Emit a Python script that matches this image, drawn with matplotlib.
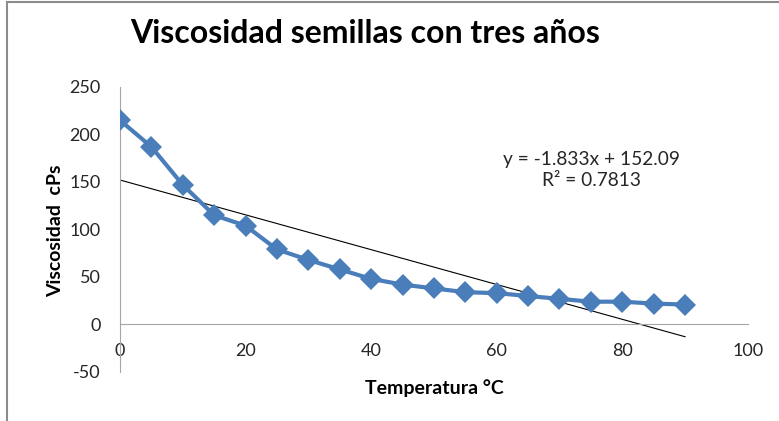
import numpy as np
import matplotlib
matplotlib.use('Agg')
import matplotlib.pyplot as plt
from matplotlib.lines import Line2D

plt.rcParams['font.family'] = ['Lato', 'DejaVu Sans']
plt.rcParams['axes.unicode_minus'] = False

# datos
temperatura = [0, 5, 10, 15, 20, 25, 30, 35, 40, 45, 50, 55, 60, 65, 70, 75, 80, 85, 90]
viscosidad = [215, 187, 147, 115, 104, 79, 68, 58, 48, 42, 38, 34, 33, 30, 27, 24, 24, 22, 21]
pendiente = -1.833
intercepto = 152.09
r2 = 0.7813
xticks = [0, 20, 40, 60, 80, 100]
yticks = [-50, 0, 50, 100, 150, 200, 250]

fig = plt.figure(figsize=(7.79, 4.21), dpi=100)
ax = fig.add_axes([0.154, 0.1164, 0.806, 0.677])

# linea de tendencia
xt = np.array([temperatura[0], temperatura[-1]])
ax.plot(xt, pendiente * xt + intercepto, color='black', lw=0.8, zorder=2)
ax.plot(temperatura, viscosidad, color='#4A7EBB', lw=3, marker='D', ms=11.5,
        markeredgewidth=0, zorder=3)

ax.set_xlim(0, 100)
ax.set_ylim(-50, 250)
ax.set_xticks(xticks)
ax.set_yticks(yticks)
for s in ['top', 'right']:
    ax.spines[s].set_visible(False)
ax.spines['bottom'].set_position(('data', 0))
ax.spines['bottom'].set_color('#A6A6A6')
ax.spines['left'].set_color('#A6A6A6')
ax.tick_params(axis='both', length=0, labelsize=13, labelcolor='#262626')
ax.tick_params(axis='x', pad=13)
ax.tick_params(axis='y', pad=14)

fig.text(0.469, 0.921, 'Viscosidad semillas con tres años', ha='center', va='center',
         fontsize=23, fontweight='bold')
fig.text(0.557, 0.078, 'Temperatura °C', ha='center', va='center',
         fontsize=14, fontweight='bold')
fig.text(0.071, 0.452, 'Viscosidad  cPs', ha='center', va='center', rotation=90,
         fontsize=14, fontweight='bold')
fig.text(0.759, 0.596, 'y = -1.833x + 152.09\nR² = 0.7813', ha='center', va='center',
         fontsize=13.8, color='#262626', linespacing=1.3)

# borde del grafico
fig.add_artist(Line2D([0.009, 1], [0.996, 0.996], color='#8C8C8C', lw=1.5))
fig.add_artist(Line2D([0.009, 0.009], [0, 0.996], color='#8C8C8C', lw=1.5))

fig.savefig('out.png', dpi=100)
